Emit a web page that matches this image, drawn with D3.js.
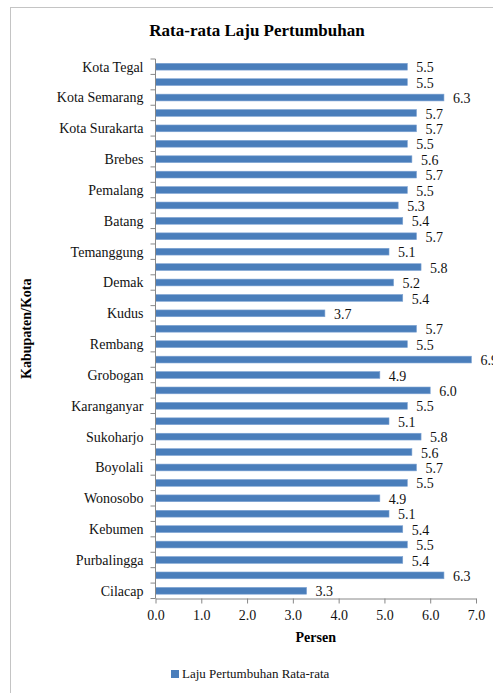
<html>
<script src="https://d3js.org/d3.v7.min.js"></script>
<body style="margin:0;background:#fff"></body>
<script>
const width = 493;
const height = 693;

// bottom to top, same order as the source table
const regions = ['Cilacap','Banyumas','Purbalingga','Banjarnegara','Kebumen','Purworejo','Wonosobo','Magelang',
    'Boyolali','Klaten','Sukoharjo','Wonogiri','Karanganyar','Sragen','Grobogan','Blora','Rembang','Pati',
    'Kudus','Jepara','Demak','Semarang','Temanggung','Kendal','Batang','Pekalongan','Pemalang','Tegal',
    'Brebes','Kota Magelang','Kota Surakarta','Kota Salatiga','Kota Semarang','Kota Pekalongan','Kota Tegal'];
const growth = [3.3,6.3,5.4,5.5,5.4,5.1,4.9,5.5,5.7,5.6,5.8,5.1,5.5,6.0,4.9,6.9,5.5,5.7,
    3.7,5.4,5.2,5.8,5.1,5.7,5.4,5.3,5.5,5.7,5.6,5.5,5.7,5.7,6.3,5.5,5.5];
const xTicks = [0,1,2,3,4,5,6,7];

const data = regions.map((r,i)=>({region:r, value:growth[i]}));

const margin = {left:155.5, top:59, bottom:598.5};
const font = 'Liberation Serif';

const svg = d3.select('body').append('svg')
    .attr('width',width)
    .attr('height',height);

// outer chart frame
svg.append('rect')
    .attr('x',10.5).attr('y',7.5)
    .attr('width',width).attr('height',height)
    .attr('fill','none').attr('stroke','#c4c4c4');

const x = d3.scaleLinear()
    .domain([0,7])
    .range([margin.left, 476]);

const y = d3.scaleBand()
    .domain(regions.slice().reverse())
    .range([margin.top, margin.bottom])
    .paddingInner(0.56)
    .paddingOuter(0.28);

svg.append('text')
    .attr('x',257).attr('y',36)
    .attr('text-anchor','middle')
    .attr('font-family',font)
    .attr('font-weight','bold')
    .attr('font-size',17)
    .text('Rata-rata Laju Pertumbuhan');

// bars
svg.selectAll('rect.bar')
    .data(data)
    .enter()
    .append('rect')
        .attr('class','bar')
        .attr('x',x(0))
        .attr('y',d=>y(d.region))
        .attr('width',d=>x(d.value)-x(0))
        .attr('height',y.bandwidth())
        .attr('fill','#4a7ebb')
        .attr('stroke','#7ea3d3')
        .attr('stroke-width',0.6);

svg.selectAll('text.val')
    .data(data)
    .enter()
    .append('text')
        .attr('class','val')
        .attr('x',d=>x(d.value)+9)
        .attr('y',d=>y(d.region)+y.bandwidth()/2)
        .attr('dy','0.4em')
        .attr('font-family',font)
        .attr('font-size',14)
        .attr('fill','#111')
        .text(d=>d3.format('.1f')(d.value));

// x axis
const xAxis = svg.append('g')
    .attr('transform',`translate(0,${margin.bottom})`)
    .call(d3.axisBottom(x).tickValues(xTicks).tickFormat(d3.format('.1f')).tickSize(5).tickSizeOuter(0));
xAxis.select('.domain').attr('stroke','#888');
xAxis.selectAll('line').attr('stroke','#888');
xAxis.selectAll('text')
    .attr('font-family',font)
    .attr('font-size',14)
    .attr('fill','#111')
    .attr('dy','0.95em');

// y axis: ticks on band edges, labels every other category
const yAxis = svg.append('g');
yAxis.append('line')
    .attr('x1',x(0)).attr('x2',x(0))
    .attr('y1',margin.top).attr('y2',margin.bottom)
    .attr('stroke','#888');
const step = y.step();
yAxis.selectAll('line.tk')
    .data(d3.range(regions.length+1))
    .enter()
    .append('line')
        .attr('class','tk')
        .attr('x1',x(0)-5).attr('x2',x(0))
        .attr('y1',i=>margin.top+i*step)
        .attr('y2',i=>margin.top+i*step)
        .attr('stroke','#888');
yAxis.selectAll('text')
    .data(data.filter((d,i)=>i%2===0))
    .enter()
    .append('text')
        .attr('x',x(0)-12)
        .attr('y',d=>y(d.region)+y.bandwidth()/2)
        .attr('dy','0.35em')
        .attr('text-anchor','end')
        .attr('font-family',font)
        .attr('font-size',14)
        .attr('fill','#111')
        .text(d=>d.region);

svg.append('text')
    .attr('x',x(3.5)).attr('y',642)
    .attr('text-anchor','middle')
    .attr('font-family',font)
    .attr('font-weight','bold')
    .attr('font-size',14)
    .text('Persen');

svg.append('text')
    .attr('transform',`translate(31,${(margin.top+margin.bottom)/2}) rotate(-90)`)
    .attr('text-anchor','middle')
    .attr('font-family',font)
    .attr('font-weight','bold')
    .attr('font-size',14)
    .text('Kabupaten/Kota');

// legend
const legend = svg.append('g').attr('transform','translate(171,670)');
legend.append('rect')
    .attr('width',8).attr('height',8)
    .attr('fill','#4a7ebb');
legend.append('text')
    .attr('x',11).attr('y',8)
    .attr('font-family',font)
    .attr('font-size',13)
    .attr('fill','#111')
    .text('Laju Pertumbuhan Rata-rata');
</script>
</html>
